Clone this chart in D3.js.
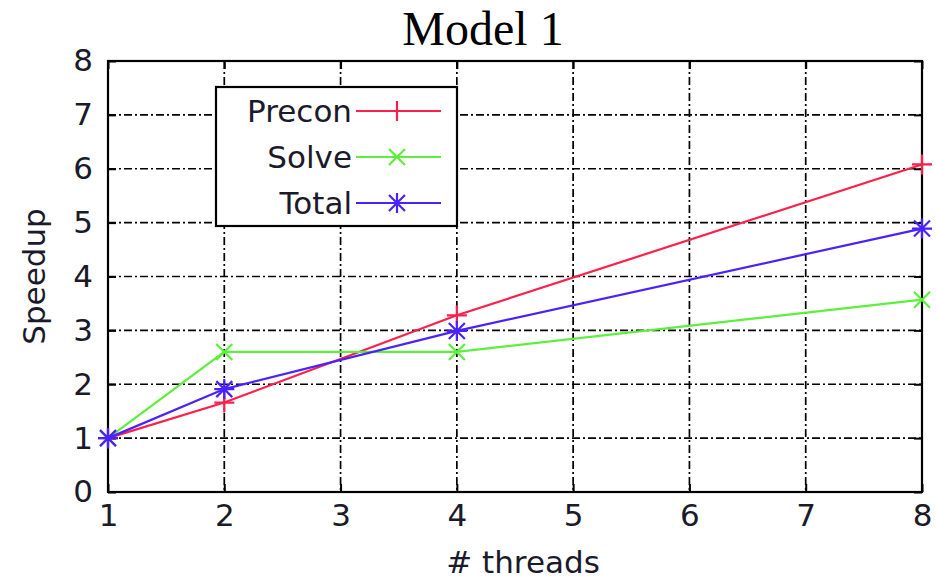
<!DOCTYPE html>
<html>
<head>
<meta charset="utf-8">
<script src="https://cdn.jsdelivr.net/npm/d3@7"></script>
<style>
  body { margin: 0; background: #fff; }
  text { font-family: "DejaVu Sans", sans-serif; fill: #1a1a2a; }
</style>
</head>
<body>
<div id="chart"></div>
<script>
// Data
var threads = [1, 2, 4, 8];
var precon = [1, 1.66, 3.28, 6.08];
var solve = [1, 2.6, 2.6, 3.57];
var total = [1, 1.91, 2.99, 4.89];
var xTicks = [1, 2, 3, 4, 5, 6, 7, 8];
var yTicks = [0, 1, 2, 3, 4, 5, 6, 7, 8];

var seriesNames = ["Precon", "Solve", "Total"];
var seriesColors = ["#ff1f4a", "#5cf03c", "#4a22ff"];
var seriesMarkers = ["plus", "cross", "star"];

// Svg dimensions
var svgWidth = 936;
var svgHeight = 582;
var margin = { top: 61, right: 14, bottom: 90, left: 108 };
var chartWidth = svgWidth - margin.left - margin.right;
var chartHeight = svgHeight - margin.top - margin.bottom;

var svg = d3.select("#chart").append("svg")
    .attr("width", svgWidth)
    .attr("height", svgHeight);

var chartGroup = svg.append("g")
    .attr("transform", `translate(${margin.left}, ${margin.top})`);

var xScale = d3.scaleLinear().domain([1, 8]).range([0, chartWidth]);
var yScale = d3.scaleLinear().domain([0, 8]).range([chartHeight, 0]);

// Grid lines (dash-dot)
chartGroup.append("g").selectAll("line")
    .data(xTicks.slice(1, -1))
    .enter().append("line")
    .attr("x1", d => xScale(d)).attr("x2", d => xScale(d))
    .attr("y1", 0).attr("y2", chartHeight)
    .attr("stroke", "#000").attr("stroke-width", 1.7)
    .attr("stroke-dasharray", "8,3,2,3");

chartGroup.append("g").selectAll("line")
    .data(yTicks.slice(1, -1))
    .enter().append("line")
    .attr("x1", 0).attr("x2", chartWidth)
    .attr("y1", d => yScale(d)).attr("y2", d => yScale(d))
    .attr("stroke", "#000").attr("stroke-width", 1.7)
    .attr("stroke-dasharray", "8,3,2,3");

// Axes with inward ticks
var bottomAxis = d3.axisBottom(xScale).tickValues(xTicks).tickSize(-8).tickPadding(12).tickFormat(d3.format("d"));
var topAxis = d3.axisTop(xScale).tickValues(xTicks).tickSize(-8).tickFormat("");
var leftAxis = d3.axisLeft(yScale).tickValues(yTicks).tickSize(-8).tickPadding(15).tickFormat(d3.format("d"));
var rightAxis = d3.axisRight(yScale).tickValues(yTicks).tickSize(-8).tickFormat("");

function styleAxis(g) {
    g.select(".domain").remove();
    g.selectAll(".tick line").attr("stroke", "#000").attr("stroke-width", 2);
    g.selectAll(".tick text").style("fill", "#1a1a2a").style("font-size", "31px")
        .style("font-family", "'DejaVu Sans', sans-serif");
}

chartGroup.append("g").attr("transform", `translate(0, ${chartHeight})`).call(bottomAxis).call(styleAxis);
chartGroup.append("g").call(topAxis).call(styleAxis);
chartGroup.append("g").call(leftAxis).call(styleAxis);
chartGroup.append("g").attr("transform", `translate(${chartWidth}, 0)`).call(rightAxis).call(styleAxis);

// Border
chartGroup.append("rect")
    .attr("width", chartWidth).attr("height", chartHeight)
    .attr("fill", "none").attr("stroke", "#000").attr("stroke-width", 2.2);

// Marker drawing
function drawMarker(g, type, x, y, color, s) {
    var p = d3.path();
    if (type === "plus" || type === "star") {
        p.moveTo(x - s, y); p.lineTo(x + s, y);
        p.moveTo(x, y - s); p.lineTo(x, y + s);
    }
    if (type === "cross" || type === "star") {
        var c = s * 0.8;
        p.moveTo(x - c, y - c); p.lineTo(x + c, y + c);
        p.moveTo(x - c, y + c); p.lineTo(x + c, y - c);
    }
    g.append("path").attr("d", p.toString())
        .attr("stroke", color).attr("stroke-width", 2.2).attr("fill", "none");
}

var allSeries = [precon, solve, total];
var line = d3.line()
    .x((d, i) => xScale(threads[i]))
    .y(d => yScale(d));

allSeries.forEach(function(vals, k) {
    chartGroup.append("path")
        .datum(vals)
        .attr("d", line)
        .attr("fill", "none")
        .attr("stroke", seriesColors[k])
        .attr("stroke-width", 2.2);
    vals.forEach(function(v, i) {
        drawMarker(chartGroup, seriesMarkers[k], xScale(threads[i]), yScale(v), seriesColors[k], 10);
    });
});

// Legend
var legend = svg.append("g");
legend.append("rect")
    .attr("x", 216).attr("y", 87).attr("width", 241).attr("height", 139)
    .attr("fill", "#fff").attr("stroke", "#000").attr("stroke-width", 2.2);

seriesNames.forEach(function(name, k) {
    var ly = 111 + k * 46;
    legend.append("text")
        .attr("x", 352).attr("y", ly).attr("dy", "0.35em")
        .attr("text-anchor", "end")
        .style("font-size", "31px")
        .text(name);
    legend.append("line")
        .attr("x1", 356).attr("x2", 441).attr("y1", ly).attr("y2", ly)
        .attr("stroke", seriesColors[k]).attr("stroke-width", 2.2);
    drawMarker(legend, seriesMarkers[k], 397, ly, seriesColors[k], 10);
});

// Title
svg.append("text")
    .attr("x", 483).attr("y", 45)
    .attr("text-anchor", "middle")
    .style("font-family", "'Liberation Serif', 'DejaVu Serif', serif")
    .style("font-size", "48px")
    .style("fill", "#000")
    .text("Model 1");

// Axis labels
svg.append("text")
    .attr("x", 523).attr("y", 573)
    .attr("text-anchor", "middle")
    .style("font-size", "31px")
    .text("# threads");

svg.append("text")
    .attr("transform", `translate(45, ${margin.top + chartHeight / 2}) rotate(-90)`)
    .attr("text-anchor", "middle")
    .style("font-size", "31px")
    .text("Speedup");
</script>
</body>
</html>
